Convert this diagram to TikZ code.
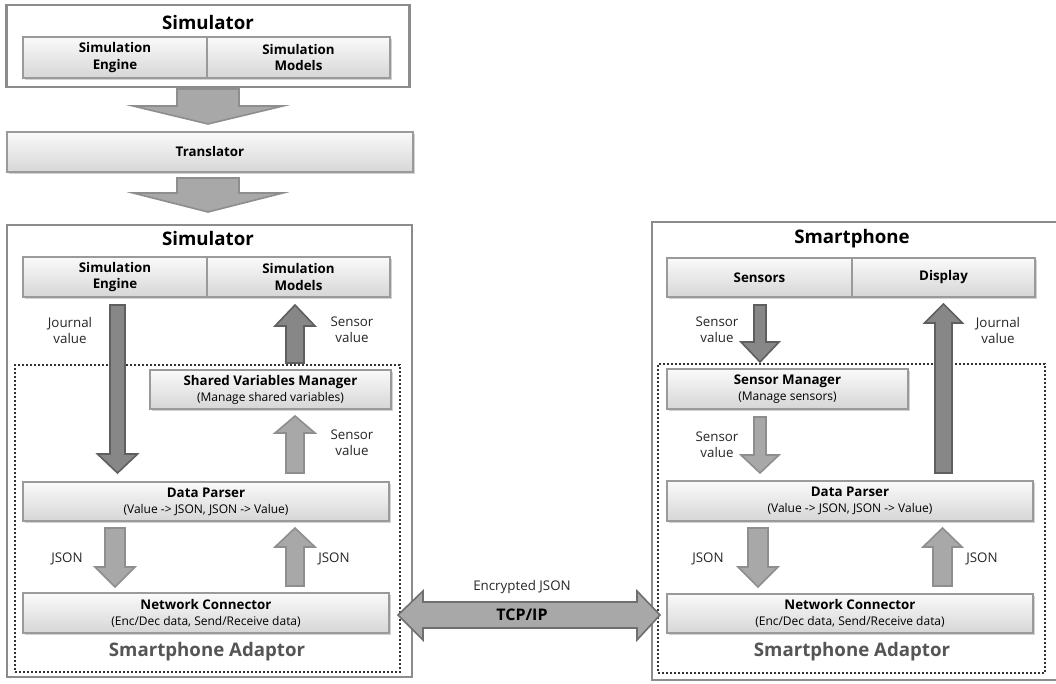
\documentclass[tikz,border=0pt]{standalone}
\usepackage{fontspec}
\setmainfont{Open Sans}
\usetikzlibrary{shadows}
\definecolor{boxline}{HTML}{9A9A9A}
\definecolor{outerline}{HTML}{8C8C8C}
\definecolor{darkfill}{HTML}{878787}
\definecolor{darkline}{HTML}{5F5F5F}
\definecolor{lightfill}{HTML}{A8A8A8}
\definecolor{lightline}{HTML}{8E8E8E}
\definecolor{adaptorcol}{HTML}{555555}
\def\u{0.75pt}
\tikzset{
  box/.style={draw=boxline, line width=0.8pt, top color=gray!4, bottom color=gray!32,
    inner sep=0pt, align=center, font=\fontsize{9}{12}\selectfont,
    drop shadow={shadow xshift=1.2pt, shadow yshift=-1.2pt, opacity=0.35, fill=gray}},
  outerbox/.style={draw=outerline, line width=2.2pt, fill=white, inner sep=0pt},
  dotbox/.style={draw=black!80, line width=1.7pt, dash pattern=on 1.7pt off 1.3pt, inner sep=0pt},
  titletext/.style={font=\fontsize{14}{16}\selectfont\bfseries},
  lbl/.style={align=center, font=\fontsize{10}{12}\selectfont, text=black!85},
  adaptortext/.style={font=\fontsize{14}{16}\selectfont\bfseries, text=adaptorcol},
  darkarrow/.style={fill=darkfill, draw=darkline, line width=1.2pt, line join=miter},
  lightarrow/.style={fill=lightfill, draw=lightline, line width=1.2pt, line join=miter},
  bigarrow/.style={fill=lightfill, draw=lightline, line width=1.2pt, line join=miter},
}
% vertical block arrow: style, x, y tail, y head base, y tip, half shaft, half head
\newcommand\vblockarrow[7]{%
  \draw[#1] ({#2-#6},#3) -- ({#2-#6},#4) -- ({#2-#7},#4) -- (#2,#5) -- ({#2+#7},#4)
    -- ({#2+#6},#4) -- ({#2+#6},#3) -- cycle;}
\newcommand\bt[2]{{\fontsize{10}{12}\selectfont\bfseries #1}\\#2}
\begin{document}
\begin{tikzpicture}[x=0.75pt,y=-0.75pt]
\useasboundingbox (0,0) rectangle (1056,684);

% ---------- top simulator ----------
\node[outerbox, minimum width=403*\u, minimum height=82*\u] (simA) at (208,46) {};
\node[titletext] (simAt) at (208,23) {Simulator};
\node[box, minimum width=184*\u, minimum height=41*\u, font=\fontsize{10}{12.5}\selectfont\bfseries] (engA) at (115,57.5) {Simulation\\Engine};
\node[box, minimum width=183*\u, minimum height=41*\u, font=\fontsize{10}{12.5}\selectfont\bfseries] (modA) at (298.5,57.5) {Simulation\\Models};

\vblockarrow{bigarrow}{208}{89}{106}{124}{31}{75}
\node[box, minimum width=406*\u, minimum height=40*\u, font=\fontsize{10}{12}\selectfont\bfseries] (trans) at (210,152) {Translator};
\vblockarrow{bigarrow}{208}{178}{193}{212}{31}{75}

% ---------- left simulator ----------
\node[outerbox, minimum width=405*\u, minimum height=452*\u] (simB) at (209.5,451) {};
\node[titletext] (simBt) at (208,239) {Simulator};
\node[box, minimum width=184*\u, minimum height=40*\u, font=\fontsize{10}{12.5}\selectfont\bfseries] (engB) at (115,277) {Simulation\\Engine};
\node[box, minimum width=183*\u, minimum height=40*\u, font=\fontsize{10}{12.5}\selectfont\bfseries] (modB) at (298.5,277) {Simulation\\Models};
\node[dotbox, minimum width=385*\u, minimum height=307*\u] (adB) at (207.5,518.5) {};
\node[box, minimum width=241*\u, minimum height=39*\u] (svm) at (270.5,389.5) {\bt{Shared Variables Manager}{(Manage shared variables)}};
\node[box, minimum width=366*\u, minimum height=39*\u] (dpB) at (206,501.5) {\bt{Data Parser}{(Value -> JSON, JSON -> Value)}};
\node[box, minimum width=366*\u, minimum height=40*\u] (ncB) at (206,613) {\bt{Network Connector}{(Enc/Dec data, Send/Receive data)}};
\node[adaptortext] (adBt) at (207,652) {Smartphone Adaptor};

\vblockarrow{darkarrow}{117.5}{305}{454}{473}{7.5}{20}
\node[lbl] (jvB) at (70,330) {Journal\\value};
\vblockarrow{darkarrow}{295}{363}{326}{305}{9}{20}
\node[lbl] (svB1) at (352,330) {Sensor\\value};
\vblockarrow{lightarrow}{295}{473}{433}{416}{9}{20}
\node[lbl] (svB2) at (352,443) {Sensor\\value};
\vblockarrow{lightarrow}{115}{528}{567}{587}{10}{20}
\node[lbl] (jsB1) at (67,559) {JSON};
\vblockarrow{lightarrow}{295}{586}{547}{528}{9}{20}
\node[lbl] (jsB2) at (334,559) {JSON};

% ---------- right smartphone ----------
\node[outerbox, minimum width=420*\u, minimum height=458*\u] (sp) at (862,451) {};
\node[titletext] (spt) at (852,239) {Smartphone};
\node[box, minimum width=185*\u, minimum height=39*\u, font=\fontsize{10}{12.5}\selectfont\bfseries] (sens) at (759.5,277.5) {Sensors};
\node[box, minimum width=183*\u, minimum height=39*\u, font=\fontsize{10}{12.5}\selectfont\bfseries] (disp) at (943.5,277.5) {Display};
\node[dotbox, minimum width=387*\u, minimum height=309*\u] (adC) at (851.5,518.5) {};
\node[box, minimum width=241*\u, minimum height=40*\u] (sm) at (787.5,389) {\bt{Sensor Manager}{(Manage sensors)}};
\node[box, minimum width=366*\u, minimum height=40*\u] (dpC) at (850,501) {\bt{Data Parser}{(Value -> JSON, JSON -> Value)}};
\node[box, minimum width=366*\u, minimum height=39*\u] (ncC) at (850,613.5) {\bt{Network Connector}{(Enc/Dec data, Send/Receive data)}};
\node[adaptortext] (adCt) at (852,652) {Smartphone Adaptor};

\vblockarrow{darkarrow}{760}{305}{342}{362}{6}{19}
\node[lbl] (svC1) at (717,330) {Sensor\\value};
\vblockarrow{lightarrow}{760}{417}{455}{473}{6}{19}
\node[lbl] (svC2) at (717,445) {Sensor\\value};
\vblockarrow{darkarrow}{943.5}{473}{323}{304}{8.5}{19}
\node[lbl] (jvC) at (998,330) {Journal\\value};
\vblockarrow{lightarrow}{758}{528}{567}{587}{10}{20}
\node[lbl] (jsC1) at (708,559) {JSON};
\vblockarrow{lightarrow}{942.5}{586}{547}{528}{9.5}{19.5}
\node[lbl] (jsC2) at (982,559) {JSON};

% ---------- TCP/IP ----------
\draw[lightarrow, draw=darkline!90] (398,615) -- (423,591) -- (423,602) -- (637,602) -- (637,591)
  -- (660,615) -- (637,640) -- (637,628) -- (423,628) -- (423,640) -- cycle;
\node[font=\fontsize{12}{14}\selectfont\bfseries] (tcp) at (522,615) {TCP/IP};
\node[lbl] (enc) at (522,587) {Encrypted JSON};
\end{tikzpicture}
\end{document}
